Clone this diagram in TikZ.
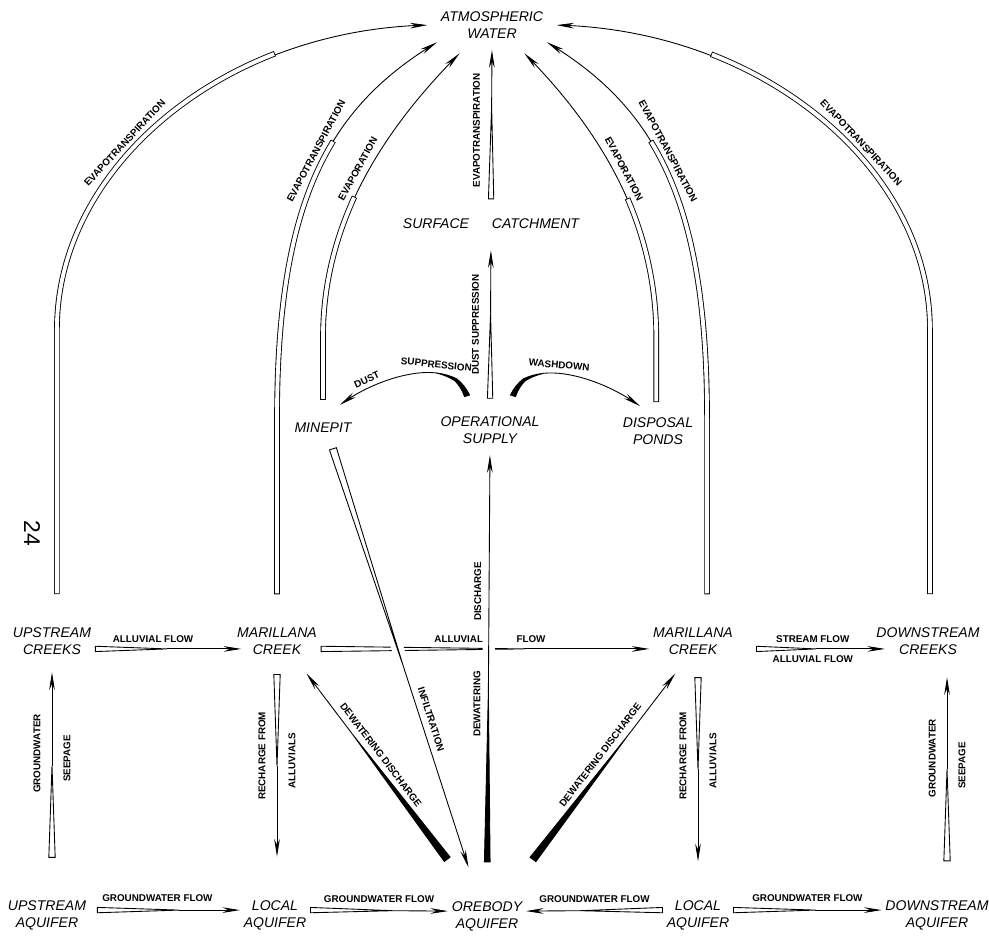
\documentclass[tikz,border=0pt]{standalone}
\usepackage{fontspec}
\setsansfont{Liberation Sans}
\usetikzlibrary{arrows.meta,bending}

\tikzset{
  place/.style={font=\sffamily\itshape\fontsize{8}{9.6}\selectfont, align=center, inner sep=2pt},
  lbl/.style={font=\sffamily\bfseries\fontsize{5.6}{6}\selectfont, inner sep=1.5pt},
  lblL/.style={lbl, rotate=90, anchor=south, outer sep=5pt},
  lblR/.style={lbl, rotate=90, anchor=north, outer sep=5pt},
  wflow/.style 2 args={line width=.5pt, {Triangle[reversed,bend,fill=white,length=#1,width=#2]}-{Stealth[length=10pt,width=3.2pt]}},
  bflow/.style 2 args={line width=.5pt, {Triangle[reversed,bend,length=#1,width=#2]}-{Stealth[length=10pt,width=3.2pt]}},
  evap/.style={line width=.5pt, -{Stealth[length=10pt,width=3.2pt]},
    postaction={draw, -, double=white, double distance=2.2pt, line cap=rect, dash pattern=on #1 off 5000pt}},
  gap/.style={preaction={draw=white, -, line width=7pt}}
}

\begin{document}
\begin{tikzpicture}[x=0.02cm, y=-0.02cm]
        \useasboundingbox (0,0) rectangle (989,939);

        \node[place] (atmo) at (492,25) {ATMOSPHERIC\\WATER};
        \node[place] (surf) at (491,224) {SURFACE\hspace{13pt}CATCHMENT};
        \node[place] (minepit) at (323,428) {MINEPIT};
        \node[place] (opsup) at (490,430) {OPERATIONAL\\SUPPLY};
        \node[place] (dispond) at (658,431) {DISPOSAL\\PONDS};
        \node[place] (ucreek) at (52,641) {UPSTREAM\\CREEKS};
        \node[place] (lmcreek) at (277,641) {MARILLANA\\CREEK};
        \node[place] (rmcreek) at (693,641) {MARILLANA\\CREEK};
        \node[place] (dcreek) at (928,641) {DOWNSTREAM\\CREEKS};
        \node[place] (uaq) at (47,915) {UPSTREAM\\AQUIFER};
        \node[place] (llaq) at (275,915) {LOCAL\\AQUIFER};
        \node[place] (orebody) at (487,916) {OREBODY\\AQUIFER};
        \node[place] (rlaq) at (698,915) {LOCAL\\AQUIFER};
        \node[place] (daq) at (937,915) {DOWNSTREAM\\AQUIFER};
        \node[font=\sffamily\fontsize{13}{13}\selectfont, rotate=-90] (pagenum) at (32,533) {24};

        % evapotranspiration arcs
        \draw[evap=360pt, shorten >=5.5pt] ([shift={(2.8pt,18.4pt)}]ucreek.north) -- ++(0,-262)
            .. controls +(0,-168) and +(-204,0) .. (atmo.west)
            node[lbl, sloped, pos=.4, above=2pt] {EVAPOTRANSPIRATION};
        \draw[evap=360pt, shorten >=5.5pt] ([shift={(1.1pt,18.4pt)}]dcreek.north) -- ++(0,-262)
            .. controls +(0,-168) and +(204,0) .. (atmo.east)
            node[lbl, sloped, pos=.4, above=2pt] {EVAPOTRANSPIRATION};
        \draw[evap=260pt] ([yshift=18.4pt]lmcreek.north) -- ++(0,-172)
            .. controls +(0,-220) and +(-108,65) .. (atmo.south west)
            node[lbl, sloped, pos=.55, above=2pt] {EVAPOTRANSPIRATION};
        \draw[evap=260pt] ([shift={(8pt,18.4pt)}]rmcreek.north) -- ++(0,-172)
            .. controls +(0,-220) and +(108,65) .. (atmo.south east)
            node[lbl, sloped, pos=.55, above=2pt] {EVAPOTRANSPIRATION};
        \draw[evap=115pt, shorten >=9pt] ([yshift=12.7pt]minepit.north) -- ++(0,-60)
            .. controls +(0,-120) and +(-81,78) .. ([xshift=-12pt]atmo.south)
            node[lbl, sloped, pos=.5, above=2pt] {EVAPORATION};
        \draw[evap=115pt, shorten >=9pt] ([shift={(-1pt,8.2pt)}]dispond.north) -- ++(0,-63)
            .. controls +(0,-120) and +(81,78) .. ([xshift=12pt]atmo.south)
            node[lbl, sloped, pos=.5, above=2pt] {EVAPORATION};

        % surface catchment
        \draw[wflow={62pt}{3.4pt}, shorten <=9pt, shorten >=4.5pt] (surf.north) -- (atmo.south)
            node[lblL, pos=.49] {EVAPOTRANSPIRATION};
        \draw[wflow={57pt}{3.4pt}, shorten <=8pt, shorten >=10pt] (opsup.north) -- (surf.south)
            node[lblL, pos=.49] {DUST SUPPRESSION};

        % operational supply out
        \draw[bflow={28pt}{3.4pt}] ([shift={(-13pt,9.4pt)}]opsup.north)
            .. controls +(-12,-42) and +(40,-30) .. ([shift={(9.6pt,8.2pt)}]minepit.north)
            node[lbl, sloped, pos=.35, above=1pt] {SUPPRESSION}
            node[lbl, sloped, pos=.78, above=1pt] {DUST};
        \draw[bflow={28pt}{3.4pt}] ([shift={(13pt,9.4pt)}]opsup.north)
            .. controls +(12,-42) and +(-40,-30) .. ([shift={(-10.2pt,4.3pt)}]dispond.north)
            node[lbl, sloped, pos=.45, above=1pt] {WASHDOWN};

        % creeks
        \draw[wflow={48pt}{3.4pt}, shorten >=-4.5pt] ([yshift=-4.5pt]ucreek.east) -- ([yshift=-4.5pt]lmcreek.west)
            node[lbl, pos=.42, above=2pt] {ALLUVIAL FLOW};
        \draw[wflow={136pt}{3.4pt}] ([yshift=-4.5pt]lmcreek.east) -- ([yshift=-4.5pt]rmcreek.west)
            node[lbl, pos=.42, above=2pt] {ALLUVIAL}
            node[lbl, pos=.64, above=2pt] {FLOW};
        \draw[wflow={40pt}{3.4pt}, shorten <=11pt, shorten >=-7pt] ([yshift=-4.5pt]rmcreek.east) -- ([yshift=-4.5pt]dcreek.west)
            node[lbl, pos=.56, above=2pt] {STREAM FLOW}
            node[lbl, pos=.56, below=2pt] {ALLUVIAL FLOW};

        % orebody
        \draw[wflow={147pt}{4.5pt}, gap, shorten <=7pt, shorten >=18pt] ([xshift=3.4pt]minepit.south) -- ([xshift=-5pt]orebody.north)
            node[lbl, sloped, pos=.62, above=2pt] {INFILTRATION};
        \draw[bflow={113pt}{3.6pt}, gap, shorten <=20pt, shorten >=4.5pt] (orebody.north) -- (opsup.south)
            node[lblL, pos=.43, outer sep=3pt] {DEWATERING}
            node[lblL, pos=.68, outer sep=3pt] {DISCHARGE};
        \draw[bflow={100pt}{4.5pt}, shorten <=27pt, shorten >=11pt] ([xshift=-6.2pt]orebody.north) -- ([xshift=10.2pt]lmcreek.south)
            node[lbl, sloped, pos=.57, above=2pt] {DEWATERING DISCHARGE};
        \draw[bflow={100pt}{4.5pt}, shorten <=27pt, shorten >=11pt] ([xshift=9.6pt]orebody.north) -- ([xshift=-3.4pt]rmcreek.south)
            node[lbl, sloped, pos=.57, above=2pt] {DEWATERING DISCHARGE};

        % recharge and seepage
        \draw[wflow={60pt}{4pt}, shorten <=22pt, shorten >=8pt] (ucreek.south |- uaq.north) -- (ucreek.south)
            node[lblL, pos=.6] {GROUNDWATER}
            node[lblR, pos=.58] {SEEPAGE};
        \draw[wflow={60pt}{4pt}, shorten <=9pt, shorten >=22.7pt] (lmcreek.south) -- (lmcreek.south |- llaq.north)
            node[lblL, pos=.41] {RECHARGE FROM}
            node[lblR, pos=.43] {ALLUVIALS};
        \draw[wflow={60pt}{4pt}, shorten <=10.8pt, shorten >=20pt] (rlaq.north |- rmcreek.south) -- (rlaq.north)
            node[lblL, pos=.41] {RECHARGE FROM}
            node[lblR, pos=.43] {ALLUVIALS};
        \draw[wflow={60pt}{4pt}, shorten <=20pt, shorten >=10.8pt] ([xshift=5.7pt]daq.north) -- ([xshift=5.7pt]daq.north |- dcreek.south)
            node[lblL, pos=.58] {GROUNDWATER}
            node[lblR, pos=.55] {SEEPAGE};

        % aquifers
        \draw[wflow={55pt}{3.4pt}, shorten <=4pt] ([yshift=2.8pt]uaq.east) -- ([yshift=2.8pt]llaq.west)
            node[lbl, pos=.45, above=3pt] {GROUNDWATER FLOW};
        \draw[wflow={55pt}{3.4pt}] ([yshift=2.8pt]llaq.east) -- ([yshift=2.8pt]orebody.west)
            node[lbl, midway, above=3pt] {GROUNDWATER FLOW};
        \draw[wflow={55pt}{3.4pt}] ([yshift=2.8pt]rlaq.west) -- ([yshift=2.8pt]orebody.east)
            node[lbl, midway, above=3pt] {GROUNDWATER FLOW};
        \draw[wflow={55pt}{3.4pt}] ([yshift=2.8pt]rlaq.east) -- ([yshift=2.8pt]daq.west)
            node[lbl, midway, above=3pt] {GROUNDWATER FLOW};

    \end{tikzpicture}
\end{document}
